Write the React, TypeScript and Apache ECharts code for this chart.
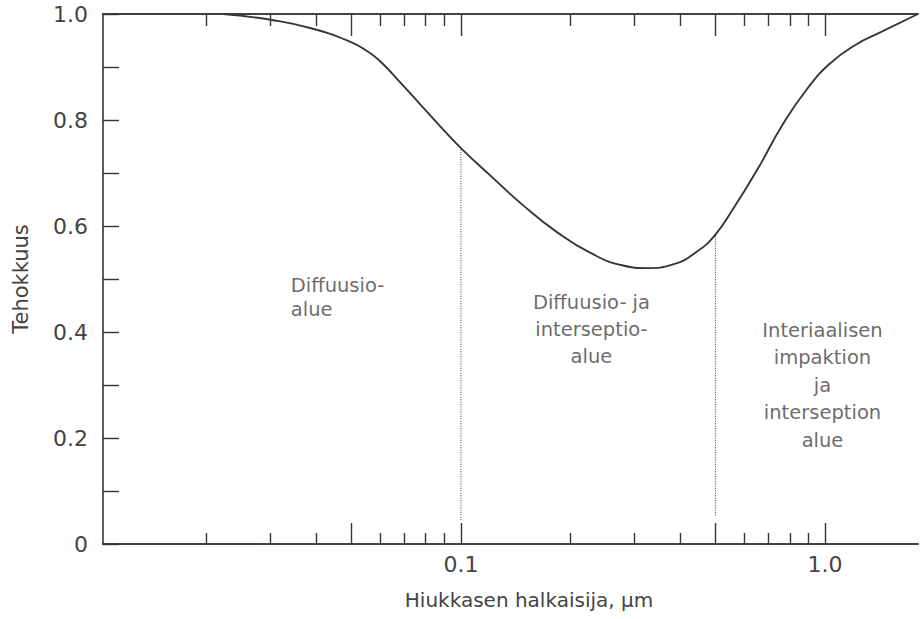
import React, { useEffect, useRef } from "react";
import * as echarts from "echarts";

// Particle diameter (µm) and collection efficiency along the curve
const CURVE_X = [
  0.0222, 0.0303, 0.039, 0.0499, 0.0552, 0.0599, 0.068, 0.0772, 0.0876, 0.1,
  0.1201, 0.148, 0.1835, 0.2262, 0.2787, 0.3243, 0.3823, 0.445, 0.4987, 0.5588,
  0.6506, 0.7665, 0.8925, 1.032, 1.2246, 1.3896, 1.8,
];
const CURVE_Y = [
  1.0, 0.9887, 0.9726, 0.9471, 0.9302, 0.9113, 0.8716, 0.8301, 0.7886, 0.747,
  0.696, 0.6394, 0.5884, 0.5497, 0.5255, 0.5205, 0.5275, 0.552, 0.583, 0.6319,
  0.7055, 0.7924, 0.8585, 0.9066, 0.9435, 0.9624, 1.0,
];

// Region boundaries (dotted verticals)
const BOUNDARY_X = [0.1, 0.5];
const BOUNDARY_Y0 = [0.045, 0.054];
const BOUNDARY_Y1 = [0.747, 0.583];

// Region captions
const REGION_TEXT = [
  "Diffuusio-\nalue",
  "Diffuusio- ja\ninterseptio-\nalue",
  "Interiaalisen\nimpaktion\nja\ninterseption\nalue",
];
const REGION_X = [0.0341, 0.2283, 0.984];
const REGION_Y = [0.466, 0.405, 0.3];
const REGION_ALIGN = ["left", "center", "center"];
const REGION_LINE_HEIGHT = [24, 27, 27.5];

// Axis extents and ticks
const X_MIN = 0.0104;
const X_MAX = 1.8;
const X_MAJOR_TICKS = [0.05, 0.1, 0.5, 1.0];
const X_MINOR_TICKS = [0.02, 0.03, 0.04, 0.06, 0.07, 0.08, 0.09, 0.2, 0.3, 0.4, 0.6, 0.7, 0.8, 0.9];
const X_LABELS = [0.1, 1.0];

const X_TITLE = "Hiukkasen halkaisija, µm";
const Y_TITLE = "Tehokkuus";

const FONT = "DejaVu Sans";
const INK = "#363636";
const TEXT = "#444444";

export default function App() {
  const ref = useRef<HTMLDivElement>(null);

  useEffect(() => {
    if (!ref.current) return;
    const chart = echarts.init(ref.current, null, { renderer: "svg" });

    const baseX = (position: "top" | "bottom", ticks: number[], len: number, labels: boolean) => ({
      type: "log",
      logBase: 10,
      min: X_MIN,
      max: X_MAX,
      position,
      axisLine: { show: true, lineStyle: { color: INK, width: 1.6 } },
      axisTick: {
        show: true,
        inside: true,
        length: len,
        customValues: ticks,
        lineStyle: { color: INK, width: 1.4 },
      },
      axisLabel: labels
        ? {
            show: true,
            customValues: X_LABELS,
            formatter: (v: number) => v.toFixed(1),
            fontFamily: FONT,
            fontSize: 22,
            color: TEXT,
            margin: 9,
          }
        : { show: false },
      splitLine: { show: false },
      minorTick: { show: false },
    });

    const xAxes: any[] = [
      {
        ...baseX("bottom", X_MAJOR_TICKS, 21, true),
        name: X_TITLE,
        nameLocation: "middle",
        nameGap: 46,
        nameTextStyle: { fontFamily: FONT, fontSize: 20, color: TEXT, padding: [0, 0, 0, 37] },
      },
      baseX("bottom", X_MINOR_TICKS, 11, false),
      baseX("top", X_MAJOR_TICKS, 22, false),
      baseX("top", X_MINOR_TICKS, 12, false),
    ];

    const boundarySeries = BOUNDARY_X.map((x, i) => ({
      type: "line",
      xAxisIndex: 0,
      yAxisIndex: 0,
      data: [
        [x, BOUNDARY_Y0[i]],
        [x, BOUNDARY_Y1[i]],
      ],
      showSymbol: false,
      silent: true,
      lineStyle: { color: "#444", width: 1, type: [1, 1.4] },
    }));

    chart.setOption({
      animation: false,
      backgroundColor: "#ffffff",
      grid: { left: 103, right: 2, top: 14, bottom: 75, outerBoundsMode: "none" },
      xAxis: xAxes,
      yAxis: {
        type: "value",
        min: 0,
        max: 1,
        interval: 0.1,
        axisLine: { show: true, lineStyle: { color: INK, width: 1.6 } },
        axisTick: { show: true, inside: true, length: 16, lineStyle: { color: INK, width: 1.4 } },
        axisLabel: {
          formatter: (v: number) => {
            const k = Math.round(v * 10);
            if (k % 2 !== 0) return "";
            return k === 0 ? "0" : v.toFixed(1);
          },
          fontFamily: FONT,
          fontSize: 22,
          color: TEXT,
          margin: 15,
        },
        splitLine: { show: false },
        name: Y_TITLE,
        nameLocation: "middle",
        nameRotate: 90,
        nameGap: 72,
        nameTextStyle: { fontFamily: FONT, fontSize: 21, color: TEXT },
      },
      series: [
        {
          type: "line",
          xAxisIndex: 0,
          yAxisIndex: 0,
          data: CURVE_X.map((x, i) => [x, CURVE_Y[i]]),
          smooth: 0.5,
          showSymbol: false,
          silent: true,
          lineStyle: { color: INK, width: 1.9 },
        },
        ...boundarySeries,
        {
          type: "scatter",
          xAxisIndex: 0,
          yAxisIndex: 0,
          symbolSize: 0,
          silent: true,
          data: REGION_TEXT.map((t, i) => ({
            value: [REGION_X[i], REGION_Y[i]],
            label: {
              show: true,
              position: "inside",
              align: REGION_ALIGN[i],
              verticalAlign: "middle",
              formatter: t,
              fontFamily: FONT,
              fontSize: 19.5,
              lineHeight: REGION_LINE_HEIGHT[i],
              color: TEXT,
            },
          })),
        },
      ],
    });

    return () => chart.dispose();
  }, []);

  return (
    <div
      ref={ref}
      style={{ position: "fixed", left: 0, top: 0, width: 920, height: 619, background: "#fff" }}
    />
  );
}
